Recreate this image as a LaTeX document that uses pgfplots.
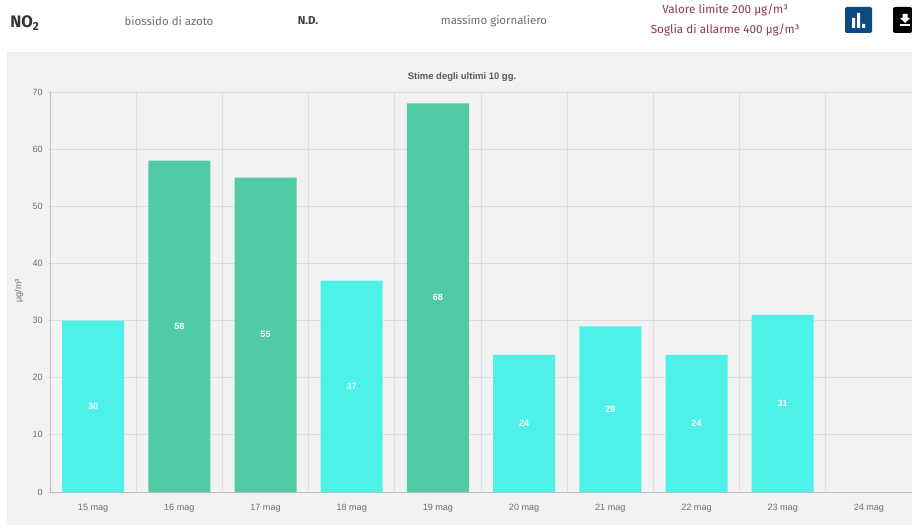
\documentclass[border=0pt]{standalone}
\usepackage{fontspec}
\setmainfont{Fira Sans}
\newfontfamily\chartfont{Liberation Sans}
\usepackage{pgfplots}
\pgfplotsset{compat=1.18}
\definecolor{panelbg}{HTML}{F2F2F2}
\definecolor{gridc}{HTML}{DEDEDE}
\definecolor{tickc}{HTML}{6E6E6E}
\definecolor{lowbar}{HTML}{4DF1E8}
\definecolor{midbar}{HTML}{51CBA6}
\definecolor{headtxt}{HTML}{6F6F6F}
\definecolor{limittxt}{HTML}{8C3A52}
\definecolor{btnblue}{HTML}{0B4A80}
\begin{document}
\begin{tikzpicture}
  \useasboundingbox (0,0) rectangle (684pt,393.75pt);
  % page furniture, in pixel units from the top left
  \begin{scope}[shift={(0,393.75pt)},x=0.75pt,y=-0.75pt]
    \fill[white] (0,0) rectangle (912,525);
    \fill[panelbg] (7,52) rectangle (912,525);
    \draw[black!8,line width=0.6pt] (7,52) -- (912,52);

    % header row
    \node[anchor=west,inner sep=0pt,font=\fontsize{12.5}{14}\selectfont\bfseries,text=black!80] at (10,23) {NO\textsubscript{2}};
    \node[font=\fontsize{8.6}{10}\selectfont,text=headtxt] at (169,21) {biossido di azoto};
    \node[font=\fontsize{8.6}{10}\selectfont\bfseries,text=black!75] at (308,21) {N.D.};
    \node[font=\fontsize{8.6}{10}\selectfont,text=headtxt] at (494,21) {massimo giornaliero};
    \node[font=\fontsize{8.8}{10}\selectfont,text=limittxt] at (725,10) {Valore limite 200 µg/m³};
    \node[font=\fontsize{8.8}{10}\selectfont,text=limittxt] at (725,30) {Soglia di allarme 400 µg/m³};

    % header buttons
    \fill[btnblue,rounded corners=1.5pt] (845,7) rectangle (872,33);
    \fill[white] (852,18) rectangle (855,28) (857,13) rectangle (860,28) (862,24) rectangle (865,28);
    \fill[black,rounded corners=1.5pt] (893,7) rectangle (912,33);
    \fill[white] (900,24) rectangle (910,26);
    \fill[white] (902.5,14) rectangle (907.5,18) (900,18) -- (910,18) -- (905,23) -- cycle;

    % chart title and value-axis unit
    \node[font=\chartfont\fontsize{7.1}{8}\selectfont\bfseries,text=black!65] at (462,77) {Stime degli ultimi 10 gg.};
    \node[rotate=90,font=\chartfont\fontsize{6.8}{8}\selectfont,text=tickc] at (19,291) {µg/m³};
  \end{scope}

  \begin{axis}[
    at={(37.5pt,24.75pt)}, anchor=origin,
    scale only axis,
    width=646.5pt, height=300pt,
    xmin=0, xmax=10, ymin=0, ymax=70,
    axis x line=bottom, axis y line=left,
    axis line style={-,gridc!85!black,line width=0.6pt},
    xtick={0.5,1.5,2.5,3.5,4.5,5.5,6.5,7.5,8.5,9.5},
    xticklabels={15 mag,16 mag,17 mag,18 mag,19 mag,20 mag,21 mag,22 mag,23 mag,24 mag},
    minor xtick={0,1,2,3,4,5,6,7,8,9,10},
    ytick={0,10,20,30,40,50,60,70},
    xminorgrids, ymajorgrids,
    grid style={gridc,line width=0.6pt},
    minor grid style={gridc,line width=0.6pt},
    major tick length=3.75pt, minor tick length=3.75pt,
    xtick style={draw=none},
    minor x tick style={gridc,line width=0.6pt},
    ytick style={gridc,line width=0.6pt},
    tick label style={font=\chartfont\fontsize{6.8}{8}\selectfont,text=tickc},
    /pgf/number format/assume math mode=true,
    xticklabel style={yshift=-2.2pt},
    ybar, bar shift=0pt, bar width=46.5pt,
    nodes near coords,
    visualization depends on={y*2.142857\as\halfbar},
    nodes near coords style={
      anchor=center, yshift=-\halfbar pt,
      font=\chartfont\fontsize{6.8}{8}\selectfont\bfseries, text=white},
  ]
    \addplot[fill=lowbar,draw=none] table {
      x y
      0.5 30
      3.5 37
      5.5 24
      6.5 29
      7.5 24
      8.5 31
    };
    \addplot[fill=midbar,draw=none] table {
      x y
      1.5 58
      2.5 55
      4.5 68
    };
  \end{axis}
\end{tikzpicture}
\end{document}
